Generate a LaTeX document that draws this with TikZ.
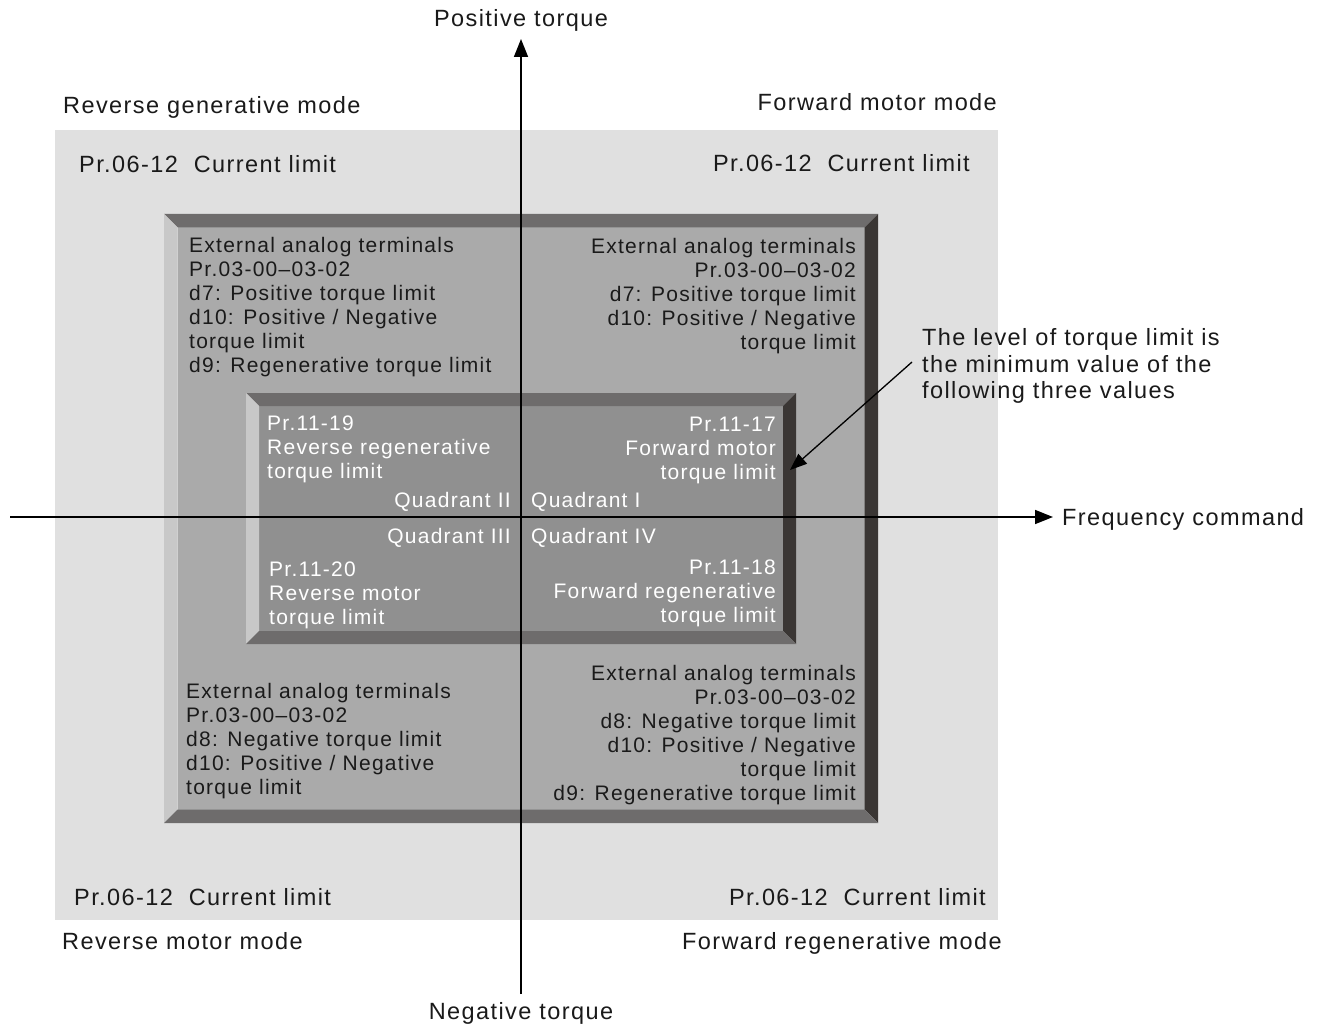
\documentclass[tikz,border=0pt]{standalone}
\usepackage{fontspec}
\setmainfont{Liberation Sans}[LetterSpace=6]
\usetikzlibrary{arrows.meta}
\definecolor{outerbg}{HTML}{E0E0E0}
\definecolor{midface}{HTML}{AAAAAA}
\definecolor{innerface}{HTML}{909090}
\definecolor{bevtop}{HTML}{6E6C6C}
\definecolor{bevleft}{HTML}{C8C8C8}
\definecolor{bevright}{HTML}{3A3634}
\definecolor{txtblack}{HTML}{1A1A1A}
\newcommand{\mybevelbox}[6]{%
  \fill[#6] ({#1+#5},{#2+#5}) rectangle ({#3-#5},{#4-#5});
  \fill[bevtop] (#1,#2) -- (#3,#2) -- ({#3-#5},{#2+#5}) -- ({#1+#5},{#2+#5}) -- cycle;
  \fill[bevleft] (#1,#2) -- ({#1+#5},{#2+#5}) -- ({#1+#5},{#4-#5}) -- (#1,#4) -- cycle;
  \fill[bevright] (#3,#2) -- (#3,#4) -- ({#3-#5},{#4-#5}) -- ({#3-#5},{#2+#5}) -- cycle;
  \fill[bevtop] (#1,#4) -- (#3,#4) -- ({#3-#5},{#4-#5}) -- ({#1+#5},{#4-#5}) -- cycle;
}
\begin{document}
\begin{tikzpicture}[x=1pt,y=-1pt,
  txt/.style={inner sep=0pt, font=\fontsize{21}{24}\selectfont, text=txtblack},
  otxt/.style={txt, font=\fontsize{23.5}{26.5}\selectfont},
  wtxt/.style={txt, text=white},
  axis/.style={line width=1.6pt, -{Triangle[length=18pt,width=14pt]}},
  pointer/.style={line width=1.3pt, -{Triangle[length=17pt,width=13pt]}}]
\useasboundingbox[fill=white] (0,0) rectangle (1324,1024);
% outer light area
\fill[outerbg] (55,130) rectangle (998,920);
% bevel boxes
\mybevelbox{164}{214}{878}{823}{13.5}{midface}
\mybevelbox{246}{393}{796}{644}{13}{innerface}
% axes
\coordinate (vbot) at (521,994);
\coordinate (vtop) at (521,39);
\coordinate (hleft) at (10,517);
\coordinate (hright) at (1053,517);
\draw[axis] (vbot) -- (vtop);
\draw[axis] (hleft) -- (hright);
% axis labels
\node[otxt, anchor=base] (pt) at (521,26.5) {Positive torque};
\node[otxt, anchor=base] (nt) at (521,1019.5) {Negative torque};
\node[otxt, anchor=base west] (fc) at (1062,525.5) {Frequency command};
% mode labels
\node[otxt, anchor=base west] (rgm) at (63,113.5) {Reverse generative mode};
\node[otxt, anchor=base east] (fmm) at (997,110.5) {Forward motor mode};
\node[otxt, anchor=base west] (rmm) at (62,949.5) {Reverse motor mode};
\node[otxt, anchor=base east] (frm) at (1002,949.5) {Forward regenerative mode};
% current limits
\node[otxt, anchor=base west] (cl1) at (79,172.5) {Pr.06-12\ \ Current limit};
\node[otxt, anchor=base east] (cl2) at (970,171.5) {Pr.06-12\ \ Current limit};
\node[otxt, anchor=base west] (cl3) at (74,905.5) {Pr.06-12\ \ Current limit};
\node[otxt, anchor=base east] (cl4) at (986,905.5) {Pr.06-12\ \ Current limit};
% middle box texts (anchor = baseline of last line)
\node[txt, anchor=base west, align=left] (m1) at (189,372) {External analog terminals\\Pr.03-00--03-02\\d7: Positive torque limit\\d10: Positive / Negative\\torque limit\\d9: Regenerative torque limit};
\node[txt, anchor=base east, align=right] (m2) at (856,349) {External analog terminals\\Pr.03-00--03-02\\d7: Positive torque limit\\d10: Positive / Negative\\torque limit};
\node[txt, anchor=base west, align=left] (m3) at (186,794) {External analog terminals\\Pr.03-00--03-02\\d8: Negative torque limit\\d10: Positive / Negative\\torque limit};
\node[txt, anchor=base east, align=right] (m4) at (856,800) {External analog terminals\\Pr.03-00--03-02\\d8: Negative torque limit\\d10: Positive / Negative\\torque limit\\d9: Regenerative torque limit};
% inner box texts
\node[wtxt, anchor=base west, align=left] (i1) at (267,478) {Pr.11-19\\Reverse regenerative\\torque limit};
\node[wtxt, anchor=base east, align=right] (i2) at (776,479) {Pr.11-17\\Forward motor\\torque limit};
\node[wtxt, anchor=base west, align=left] (i3) at (269,624) {Pr.11-20\\Reverse motor\\torque limit};
\node[wtxt, anchor=base east, align=right] (i4) at (776,622) {Pr.11-18\\Forward regenerative\\torque limit};
\node[wtxt, anchor=base east] (q2) at (511,507) {Quadrant II};
\node[wtxt, anchor=base west] (q1) at (531,507) {Quadrant I};
\node[wtxt, anchor=base east] (q3) at (511,543) {Quadrant III};
\node[wtxt, anchor=base west] (q4) at (531,543) {Quadrant IV};
% annotation
\node[otxt, anchor=base west, align=left] (ann) at (922,398.5) {The level of torque limit is\\the minimum value of the\\following three values};
\coordinate (annstart) at (912,362);
\coordinate (anntip) at (790,470);
\draw[pointer] (annstart) -- (anntip);
\end{tikzpicture}
\end{document}
